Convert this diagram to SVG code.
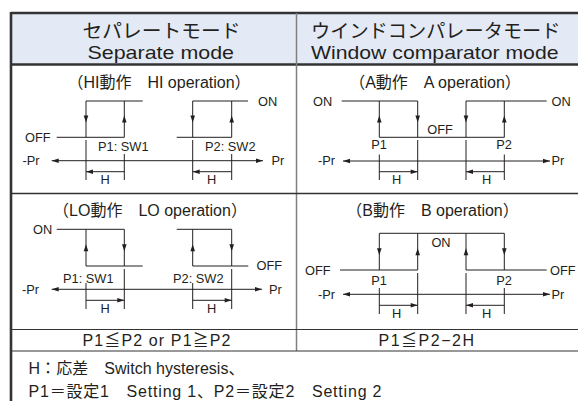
<svg xmlns="http://www.w3.org/2000/svg" width="578" height="401" viewBox="0 0 578 401">
<style>
text{font-family:"Liberation Sans","Noto Sans CJK JP",sans-serif;fill:#231f20}
.hd{font-size:19px}
.ti{font-size:16px;text-anchor:middle}
.lb{font-size:12.8px}
.lbm{font-size:12.8px;text-anchor:middle}
.ft{font-size:16px}
.ln{stroke:#231f20;stroke-width:1;fill:none}
.tb{stroke:#333;fill:none}
</style>
<defs>
<path id="a" d="M0,0 L-7,-2.3 L-7,2.3 Z" fill="#231f20"/>
</defs>

<g id="table">
<rect x="11" y="13" width="567" height="51" fill="#e3eaf6"/>
<path class="tb" d="M11 13 H578" stroke-width="2.4"/>
<path class="tb" d="M11 64.5 H578" stroke-width="2.4" stroke="#444"/>
<path class="tb" d="M11 12 V401" stroke-width="2.6"/>
<path d="M296.5 13 V351" stroke="#808080" stroke-width="1.5" fill="none"/>
<path class="tb" d="M11 193.5 H578" stroke-width="1.3" stroke="#222"/>
<path class="tb" d="M11 329.5 H578" stroke-width="1"/>
<path class="tb" d="M11 351 H578" stroke-width="1"/>
</g>

<g id="header-left">
<text class="hd" x="82.5" y="38" textLength="158" lengthAdjust="spacingAndGlyphs">セパレートモード</text>
<text class="hd" x="87.5" y="58.5" textLength="146.5" lengthAdjust="spacingAndGlyphs">Separate mode</text>
</g>
<g id="header-right">
<text class="hd" x="311" y="38" textLength="249.5" lengthAdjust="spacingAndGlyphs">ウインドコンパレータモード</text>
<text class="hd" x="311" y="58.5" textLength="247.5" lengthAdjust="spacingAndGlyphs">Window comparator mode</text>
</g>

<g id="hi-operation">
<text class="ti" x="159" y="88">（HI動作　HI operation）</text>
<path class="ln" d="M56.7 137.3 H124.3 V101 M86 137.3 V101 H142.7 M176.7 137.3 H231.7 V101 M192.7 137.3 V101 H248"/>
<use href="#a" transform="translate(86,122.5) rotate(90)"/>
<use href="#a" transform="translate(192.7,122.5) rotate(90)"/>
<use href="#a" transform="translate(124.3,115.5) rotate(-90)"/>
<use href="#a" transform="translate(231.7,115.5) rotate(-90)"/>
<path class="ln" d="M51.7 160.7 H263 M124.3 154 V180 M231.7 154 V180 M86 140 V180 M192.7 140 V180 M124.3 171.7 H86 M231.7 171.7 H192.7"/>
<use href="#a" transform="translate(51.7,160.7) rotate(180)"/>
<use href="#a" transform="translate(263,160.7)"/>
<use href="#a" transform="translate(86,171.7) rotate(180)"/>
<use href="#a" transform="translate(192.7,171.7) rotate(180)"/>
<text class="lb" x="25" y="142">OFF</text>
<text class="lb" x="258" y="106">ON</text>
<text class="lb" x="98" y="150.5">P1: SW1</text>
<text class="lb" x="205" y="150.5">P2: SW2</text>
<text class="lb" x="22.5" y="165">-Pr</text>
<text class="lb" x="271.5" y="165">Pr</text>
<text class="lbm" x="105" y="184">H</text>
<text class="lbm" x="211.7" y="184">H</text>
</g>

<g id="a-operation">
<text class="ti" x="435" y="88">（A動作　A operation）</text>
<path class="ln" d="M341.7 101 H417.7 V137.3 M379.3 101 V137.3 H504.3 V101 M466 137.3 V101 H546.7"/>
<use href="#a" transform="translate(379.3,115.5) rotate(-90)"/>
<use href="#a" transform="translate(504.3,115.5) rotate(-90)"/>
<use href="#a" transform="translate(417.7,122.5) rotate(90)"/>
<use href="#a" transform="translate(466,122.5) rotate(90)"/>
<path class="ln" d="M343 161 H550 M379.3 154.5 V180 M504.3 154.5 V180 M417.7 140 V180 M466 140 V180 M379.3 171.7 H417.7 M504.3 171.7 H466"/>
<use href="#a" transform="translate(343,161) rotate(180)"/>
<use href="#a" transform="translate(550,161)"/>
<use href="#a" transform="translate(417.7,171.7)"/>
<use href="#a" transform="translate(466,171.7) rotate(180)"/>
<text class="lb" x="313" y="106">ON</text>
<text class="lb" x="551.5" y="106">ON</text>
<text class="lbm" x="440" y="134">OFF</text>
<text class="lbm" x="379" y="149">P1</text>
<text class="lbm" x="504" y="149">P2</text>
<text class="lb" x="318" y="165">-Pr</text>
<text class="lb" x="551.5" y="165">Pr</text>
<text class="lbm" x="396.7" y="184">H</text>
<text class="lbm" x="486.7" y="184">H</text>
</g>

<g id="lo-operation">
<text class="ti" x="150" y="216">（LO動作　LO operation）</text>
<path class="ln" d="M56.7 229.3 H124.3 V266 M86 229.3 V266 H142.7 M176.7 229.3 H231.7 V266 M192.7 229.3 V266 H248.3"/>
<use href="#a" transform="translate(86,244.2) rotate(-90)"/>
<use href="#a" transform="translate(192.7,244.2) rotate(-90)"/>
<use href="#a" transform="translate(124.3,251.2) rotate(90)"/>
<use href="#a" transform="translate(231.7,251.2) rotate(90)"/>
<path class="ln" d="M51.7 289.3 H262 M86 283 V309 M192.7 283 V309 M124.3 269 V309 M231.7 269 V309 M86 300.3 H124.3 M192.7 300.3 H231.7"/>
<use href="#a" transform="translate(51.7,289.3) rotate(180)"/>
<use href="#a" transform="translate(262,289.3)"/>
<use href="#a" transform="translate(124.3,300.3)"/>
<use href="#a" transform="translate(231.7,300.3)"/>
<text class="lb" x="33" y="234">ON</text>
<text class="lb" x="256.5" y="269.5">OFF</text>
<text class="lb" x="63" y="282.5">P1: SW1</text>
<text class="lb" x="173" y="282.5">P2: SW2</text>
<text class="lb" x="22" y="293.5">-Pr</text>
<text class="lb" x="269" y="293.5">Pr</text>
<text class="lbm" x="105" y="312.5">H</text>
<text class="lbm" x="211.7" y="312.5">H</text>
</g>

<g id="b-operation">
<text class="ti" x="432.5" y="216">（B動作　B operation）</text>
<path class="ln" d="M340 270 H417.7 V233.3 M379.3 270 V233.3 H504.3 V270 M466 233.3 V270 H546.7"/>
<use href="#a" transform="translate(379.3,255.2) rotate(90)"/>
<use href="#a" transform="translate(504.3,255.2) rotate(90)"/>
<use href="#a" transform="translate(417.7,248.2) rotate(-90)"/>
<use href="#a" transform="translate(466,248.2) rotate(-90)"/>
<path class="ln" d="M343 294.3 H550 M379.3 288 V314 M504.3 288 V314 M417.7 273 V314 M466 273 V314 M379.3 305.3 H417.7 M504.3 305.3 H466"/>
<use href="#a" transform="translate(343,294.3) rotate(180)"/>
<use href="#a" transform="translate(550,294.3)"/>
<use href="#a" transform="translate(417.7,305.3)"/>
<use href="#a" transform="translate(466,305.3) rotate(180)"/>
<text class="lbm" x="441" y="247">ON</text>
<text class="lb" x="305" y="274.5">OFF</text>
<text class="lb" x="550" y="274.5">OFF</text>
<text class="lbm" x="379" y="285">P1</text>
<text class="lbm" x="504" y="285">P2</text>
<text class="lb" x="318" y="298.5">-Pr</text>
<text class="lb" x="551.5" y="298.5">Pr</text>
<text class="lbm" x="396.7" y="317.5">H</text>
<text class="lbm" x="486.7" y="317.5">H</text>
</g>

<g id="conditions">
<text class="ft" x="82.5" y="346" textLength="148" lengthAdjust="spacing">P1≦P2 or P1≧P2</text>
<text class="ft" x="427" y="346" text-anchor="middle" letter-spacing="1.5">P1≦P2−2H</text>
</g>

<g id="notes">
<text class="ft" x="28.5" y="374" textLength="216" lengthAdjust="spacing">H：応差　Switch hysteresis、</text>
<text class="ft" x="28.5" y="396.5" textLength="353" lengthAdjust="spacing">P1＝設定1　Setting 1、P2＝設定2　Setting 2</text>
</g>
</svg>
